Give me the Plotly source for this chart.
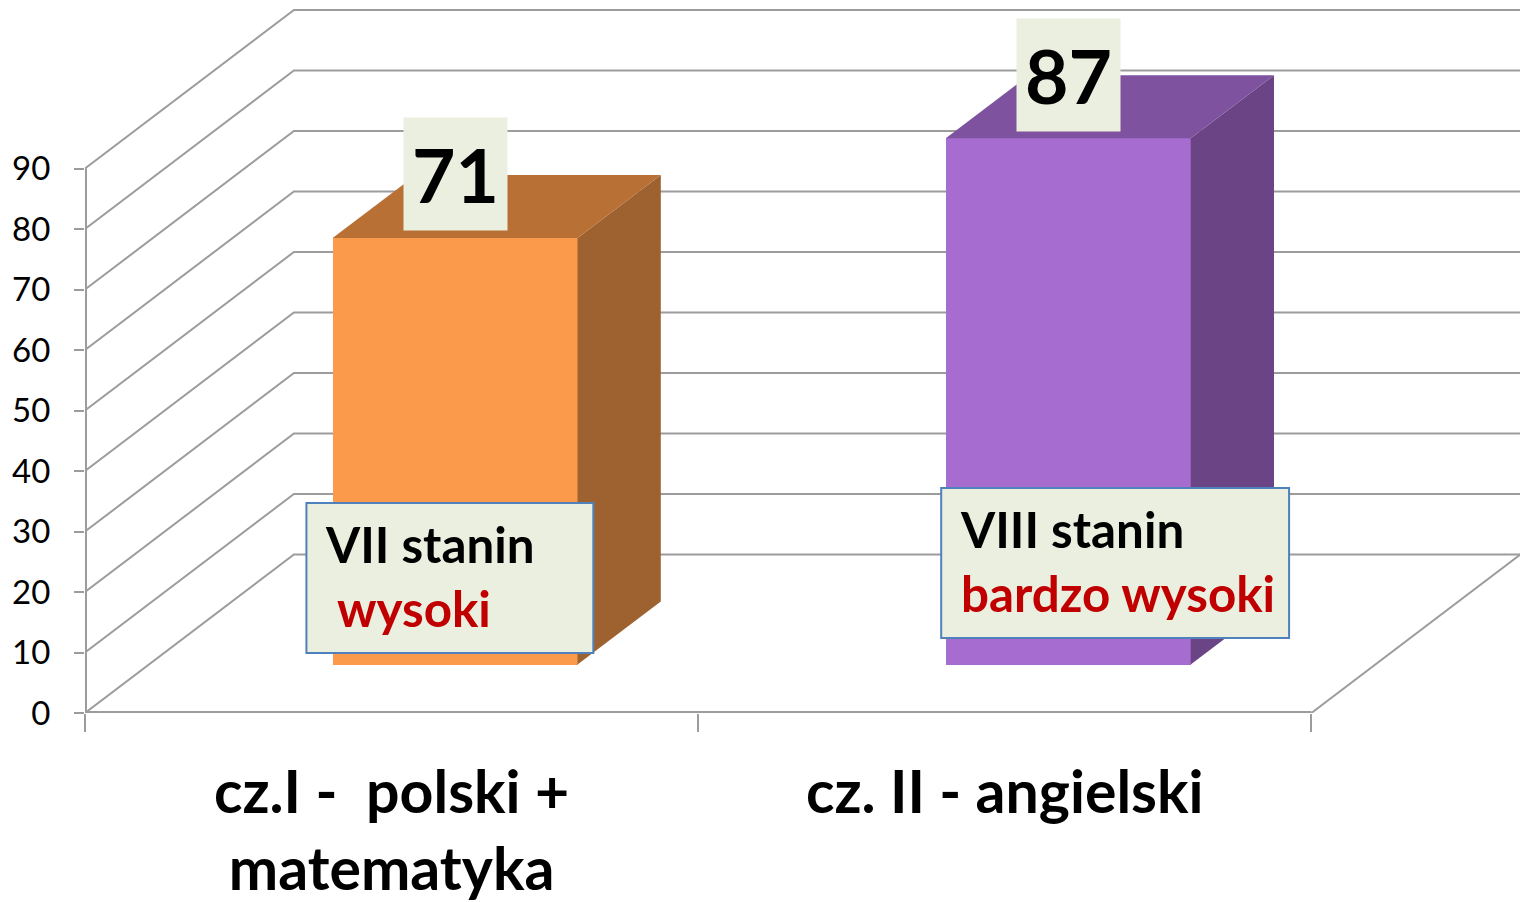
import plotly.graph_objects as go

# Data
CATEGORIES = ["cz.I -  polski +", "cz. II - angielski"]
CATEGORY_LINE2 = ["matematyka", ""]
VALUES = [70.5, 87]
VALUE_LABELS = ["71", "87"]
NOTE_LINE1 = ["VII stanin", "VIII stanin"]
NOTE_LINE2 = ["&nbsp;wysoki", "bardzo wysoki"]
Y_TICKS = [0, 10, 20, 30, 40, 50, 60, 70, 80, 90]
FRONT_COLORS = ["#FB9A4A", "#A66CD0"]
SIDE_COLORS = ["#9E6130", "#6B4486"]
TOP_COLORS = ["#B97034", "#7E529E"]

# Pixel scale of the plotted box
W, H = 1520, 902
AXIS_X, AXIS_Y = 84.5, 713
PX_X = 613.4        # pixels per category
PX_Y = 6.05         # pixels per value unit
X_RANGE = [0, (W - AXIS_X) / PX_X]
Y_RANGE = [0, AXIS_Y / PX_Y]

# Oblique projection of the floor depth, in axis units
WALL_DX = 209 / PX_X
WALL_DY = 158.5 / PX_Y
BAR_SHIFT_X = 63.5 / PX_X
BAR_BASE = 48.5 / PX_Y
BAR_DX = 83.3 / PX_X
BAR_DY = 63 / PX_Y
BAR_WIDTH = 245 / PX_X
GRID = "#9C9C9C"

fig = go.Figure()

line = dict(color=GRID, width=2)
edge = dict(color=GRID, width=4)  # half of it falls outside the clip at the axis
for t in Y_TICKS:
    fig.add_trace(go.Scatter(
        x=[0, WALL_DX, X_RANGE[1]], y=[t, t + WALL_DY, t + WALL_DY],
        mode="lines", line=line, hoverinfo="skip", showlegend=False))
# floor edges and value axis
fig.add_trace(go.Scatter(
    x=[0, 2], y=[0, 0], mode="lines", line=edge, hoverinfo="skip", showlegend=False))
fig.add_trace(go.Scatter(
    x=[2, 2 + WALL_DX], y=[0, WALL_DY], mode="lines", line=line, hoverinfo="skip", showlegend=False))
fig.add_trace(go.Scatter(
    x=[0, 0], y=[0, Y_TICKS[-1]], mode="lines", line=edge, hoverinfo="skip", showlegend=False))

centers = [i + 0.5 + BAR_SHIFT_X for i in range(len(VALUES))]
fig.add_trace(go.Bar(
    x=centers, y=VALUES, base=BAR_BASE, width=BAR_WIDTH,
    marker=dict(color=FRONT_COLORS, line=dict(width=0)),
    xaxis="x2", yaxis="y2", hoverinfo="skip", showlegend=False))

for c, v, side, top in zip(centers, VALUES, SIDE_COLORS, TOP_COLORS):
    l, r = c - BAR_WIDTH / 2, c + BAR_WIDTH / 2
    t, b = BAR_BASE + v, BAR_BASE
    fig.add_trace(go.Scatter(
        x=[r, r + BAR_DX, r + BAR_DX, r, r], y=[b, b + BAR_DY, t + BAR_DY, t, b],
        mode="lines", fill="toself", fillcolor=side, line=dict(width=0),
        xaxis="x2", yaxis="y2", hoverinfo="skip", showlegend=False))
    fig.add_trace(go.Scatter(
        x=[l, r, r + BAR_DX, l + BAR_DX, l], y=[t, t, t + BAR_DY, t + BAR_DY, t],
        mode="lines", fill="toself", fillcolor=top, line=dict(width=0),
        xaxis="x2", yaxis="y2", hoverinfo="skip", showlegend=False))

FONT = "Lato, sans-serif"
BOX = "#EBEFDF"
annotations = []
shapes = []
for c, v, lab in zip(centers, VALUES, VALUE_LABELS):
    annotations.append(dict(
        x=c, y=BAR_BASE + v + 63.5 / PX_Y, xref="x2", yref="y2", text=f"<b>{lab}</b>",
        showarrow=False, width=101, height=110, bgcolor=BOX, borderpad=1,
        font=dict(family=FONT, size=75, color="black"), xanchor="center", yanchor="middle"))

NOTE_LEFT = [306, 941]
NOTE_RIGHT = [593, 1289]
NOTE_TOP = [503, 488]
NOTE_BOTTOM = [653, 638]
to_x = lambda px: (px - AXIS_X) / PX_X
to_y = lambda px: (AXIS_Y - px) / PX_Y
for i, (a, b) in enumerate(zip(NOTE_LINE1, NOTE_LINE2)):
    shapes.append(dict(
        type="rect", xref="x2", yref="y2", layer="above",
        x0=to_x(NOTE_LEFT[i]), x1=to_x(NOTE_RIGHT[i]),
        y0=to_y(NOTE_BOTTOM[i]), y1=to_y(NOTE_TOP[i]),
        fillcolor=BOX, line=dict(color="#4F81BD", width=2)))
    annotations.append(dict(
        x=to_x(NOTE_LEFT[i] + 18), y=to_y((NOTE_TOP[i] + NOTE_BOTTOM[i]) / 2 - 2.5), xref="x2", yref="y2",
        text=(f'<b><span style="color:#000000">{a}</span><br>'
              f'<span style="color:#C00000">{b}</span></b>'),
        showarrow=False, align="left", borderpad=0,
        font=dict(family=FONT, size=49.3, color="black"),
        xanchor="left", yanchor="middle"))

tick_text = [f"<b>{a}</b><br><b>{b}</b>" if b else f"<b>{a}</b>"
             for a, b in zip(CATEGORIES, CATEGORY_LINE2)]

fig.update_layout(
    width=W, height=H, margin=dict(l=AXIS_X, r=0, t=0, b=H - AXIS_Y, pad=0, autoexpand=False),
    paper_bgcolor="white", plot_bgcolor="white", showlegend=False,
    annotations=annotations, shapes=shapes, bargap=0,
    xaxis=dict(
        range=X_RANGE, showgrid=False, zeroline=False, showline=False, automargin=False,
        tickmode="array", tickvals=[0.5, 1.5], ticktext=tick_text,
        ticks="", tickangle=0, ticklabelstandoff=40,
        tickfont=dict(family=FONT, size=59, color="black"),
        minor=dict(tickmode="array", tickvals=[0, 1, 2], ticks="outside", ticklen=18, tickwidth=2, tickcolor=GRID)),
    yaxis=dict(
        range=Y_RANGE, showgrid=False, zeroline=False, showline=False, automargin=False,
        tickmode="array", tickvals=Y_TICKS, ticks="outside", ticklen=10, tickwidth=2, tickcolor=GRID,
        ticklabelstandoff=17, tickfont=dict(family=FONT, size=33, color="black")),
    xaxis2=dict(range=X_RANGE, overlaying="x", visible=False),
    yaxis2=dict(range=Y_RANGE, overlaying="y", visible=False),
)

fig.write_html("out.html", config={"displayModeBar": False},
               post_script="document.body.style.margin='0';document.body.style.overflow='hidden';")
